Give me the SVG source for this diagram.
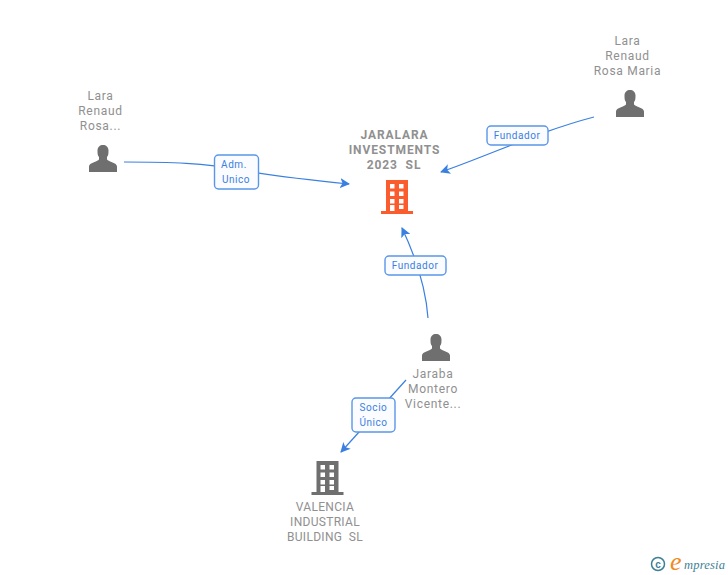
<svg xmlns="http://www.w3.org/2000/svg" width="728" height="575" viewBox="0 0 728 575">
<style>
.n{font-family:Roboto,"Liberation Sans",sans-serif;font-size:12px;fill:#909090;text-anchor:middle;letter-spacing:.7px}
.c{font-weight:700;letter-spacing:.9px}
.v{font-family:Roboto,"Liberation Sans",sans-serif;font-size:12px;fill:#909090;text-anchor:middle;letter-spacing:.3px}
.l{font-family:Roboto,"Liberation Sans",sans-serif;font-size:10px;fill:#3a80e0;text-anchor:middle;letter-spacing:.55px}
.e{fill:none;stroke:#3a80e0;stroke-width:1.2}
.b{fill:#fbfcff;stroke:#5a96e8;stroke-width:1.4}
.p{fill:#6f6f6f}
</style>
<defs>
<marker id="a" viewBox="0 0 10 10" refX="9" refY="5" markerWidth="10" markerHeight="10" markerUnits="userSpaceOnUse" orient="auto"><path d="M0 0L10 5L0 10L2.5 5Z" fill="#3a80e0"/></marker>
<path id="person" d="M-14 14V8.5C-14 4.5-5.5 4-4 1.5V-1C-5.5-2.5-5.500-5-5.500-7.500C-5.500-11-3-13 0-13S5.500-11 5.500-7.500C5.500-5 5.500-2.500 4-1V1.500C5.500 4 14 4.500 14 8.500V14Z"/>
<path id="bld" fill-rule="evenodd" d="M386 180H408V211H413V214H381V211H386ZM390 184V188.500H394.500V184ZM399 184V188.500H403.500V184ZM390 191.500V196H394.500V191.500ZM399 191.500V196H403.500V191.500ZM390 199V203.500H394.500V199ZM399 199V203.500H403.500V199ZM390 205V211H394.500V205ZM399 205V209H403.500V205Z"/>
</defs>
<g id="connectors">
<path class="e" marker-end="url(#a)" d="M124 162C170 162 205 163 240 170C275 176 310 180 349 184"/>
<path class="e" marker-end="url(#a)" d="M594 117C540 131 490 155 441 172"/>
<path class="e" marker-end="url(#a)" d="M428 318C426 290 418 262 402 228"/>
<path class="e" marker-end="url(#a)" d="M406 380L341 452"/>
</g>
<g id="edge-label-1"><rect class="b" x="214.500" y="155" width="44" height="34" rx="4"/><text class="l" x="234" y="168">Adm.</text><text class="l" x="236" y="183">Unico</text></g>
<g id="edge-label-2"><rect class="b" x="487" y="126" width="61" height="19" rx="4"/><text class="l" x="517" y="139">Fundador</text></g>
<g id="edge-label-3"><rect class="b" x="385" y="256" width="61" height="19" rx="4"/><text class="l" x="415" y="269">Fundador</text></g>
<g id="edge-label-4"><rect class="b" x="352" y="398" width="43" height="34" rx="4"/><text class="l" x="373.500" y="411">Socio</text><text class="l" x="373.500" y="426">Único</text></g>
<g id="node-jaralara"><text class="n c" x="394.500" y="139">JARALARA</text><text class="n c" x="394.500" y="154">INVESTMENTS</text><text class="n c" x="394" y="169" xml:space="preserve">2023  SL</text><use href="#bld" fill="#fa5c2e"/></g>
<g id="node-lara-rosa"><text class="n" x="100.500" y="100">Lara</text><text class="n" x="100.500" y="115">Renaud</text><text class="n" x="100.500" y="130">Rosa...</text><use href="#person" class="p" x="103" y="158"/></g>
<g id="node-lara-maria"><text class="n" x="627.500" y="45">Lara</text><text class="n" x="627.500" y="60">Renaud</text><text class="n" x="627.500" y="75">Rosa Maria</text><use href="#person" class="p" x="630" y="103"/></g>
<g id="node-jaraba"><use href="#person" class="p" x="436" y="347"/><text class="n" x="433" y="378">Jaraba</text><text class="n" x="433" y="393">Montero</text><text class="n" x="433" y="408">Vicente...</text></g>
<g id="node-valencia"><use href="#bld" fill="#6f6f6f" transform="translate(-69.500 281)"/><text class="v" x="325" y="511">VALENCIA</text><text class="v" x="325" y="526">INDUSTRIAL</text><text class="v" x="325" y="541" xml:space="preserve">BUILDING  SL</text></g>
<g id="logo"><circle cx="658" cy="564" r="6.500" fill="none" stroke="#3d7f96" stroke-width="1.500"/><text x="658" y="567.500" font-family="'Liberation Sans',sans-serif" font-size="10" font-weight="700" fill="#3d7f96" text-anchor="middle">c</text><text x="670" y="570" font-family="'Liberation Serif',serif" font-style="italic" font-size="26" fill="#f08a1d">e</text><text x="684" y="569" font-family="'Liberation Serif',serif" font-style="italic" font-size="12.500" letter-spacing=".2" fill="#3d7f96">mpresia</text></g>
</svg>
